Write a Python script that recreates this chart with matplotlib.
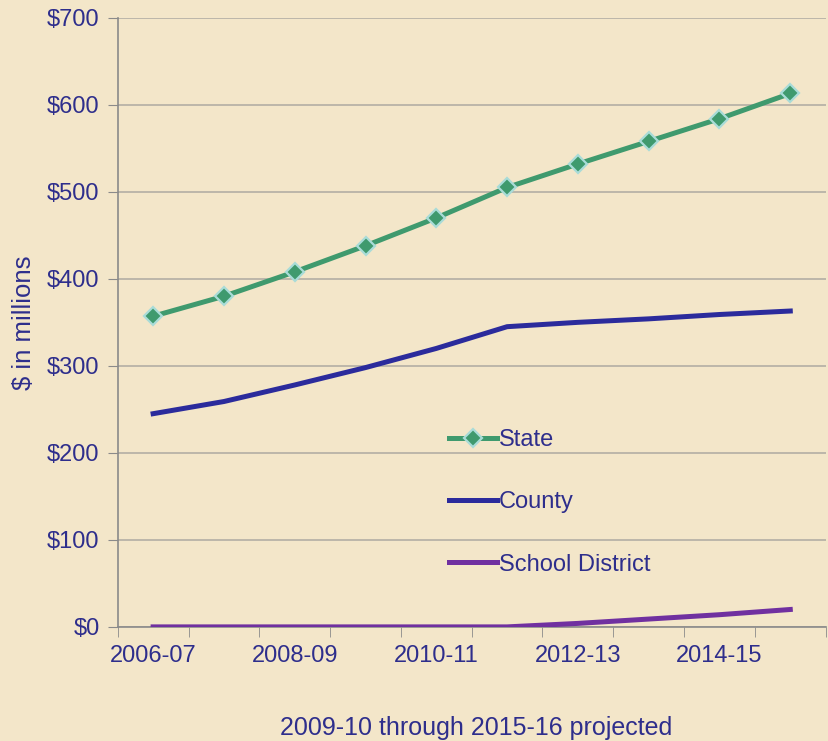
import matplotlib
matplotlib.use('Agg')
import matplotlib.pyplot as plt
from matplotlib.ticker import FuncFormatter, FixedLocator
import numpy as np

years = ['2006-07', '2007-08', '2008-09', '2009-10', '2010-11',
         '2011-12', '2012-13', '2013-14', '2014-15', '2015-16']
state = [357, 380, 408, 438, 470, 505, 532, 558, 584, 613]
county = [245, 259, 278, 298, 320, 345, 350, 354, 359, 363]
school = [0, 0, 0, 0, 0, 0, 4, 9, 14, 20]

bg = '#f3e6c9'
txt = '#2e2e8c'

plt.rcParams['font.family'] = ['Liberation Sans', 'DejaVu Sans']

fig = plt.figure(figsize=(8.29, 7.41), dpi=100, facecolor=bg)
ax = fig.add_axes([0.142, 0.154, 0.854, 0.822])
ax.set_facecolor(bg)

x = np.arange(len(years))
ax.plot(x, state, color='#3f9a6e', lw=3.6, marker='D', ms=9,
        mfc='#3f9a6e', mec='#a9dcd8', mew=1.6, label='State', zorder=4)
ax.plot(x, county, color='#2b2b9c', lw=3.6, label='County', zorder=3)
ax.plot(x, school, color='#7030a0', lw=3.6, label='School District', zorder=3)

ax.set_xlim(-0.5, len(years) - 0.5)
ax.set_ylim(0, 700)
ax.set_yticks(range(0, 701, 100))
ax.yaxis.set_major_formatter(FuncFormatter(lambda v, p: '${:.0f}'.format(v)))
ax.grid(axis='y', color='#b3aea4', lw=1.2)
ax.set_axisbelow(True)

ax.xaxis.set_major_locator(FixedLocator(x[::2]))
ax.set_xticklabels(years[::2])
ax.xaxis.set_minor_locator(FixedLocator(np.arange(-0.5, len(years), 1.0)))
ax.tick_params(axis='x', which='major', length=0, pad=13)
ax.tick_params(axis='x', which='minor', length=7, color='#8a8a8a')
ax.tick_params(axis='y', length=7, color='#8a8a8a', pad=6)
ax.tick_params(labelsize=17, labelcolor=txt)
for lab in ax.get_xticklabels():
    lab.set_fontsize(17)

for s in ['top', 'right']:
    ax.spines[s].set_visible(False)
for s in ['left', 'bottom']:
    ax.spines[s].set_color('#8a8a8a')
    ax.spines[s].set_linewidth(1.2)

ax.set_ylabel('$ in millions', fontsize=18.5, color=txt, labelpad=8)
fig.text(0.574, 0.018, '2009-10 through 2015-16 projected', ha='center',
         va='center', fontsize=18, color=txt)

leg = ax.legend(loc='upper left', bbox_to_anchor=(0.455, 0.34), frameon=False,
                fontsize=17, handlelength=2.0, handletextpad=0.1,
                labelspacing=1.7, borderaxespad=0)
for t in leg.get_texts():
    t.set_color(txt)

fig.savefig('out.png', dpi=100, facecolor=bg)
